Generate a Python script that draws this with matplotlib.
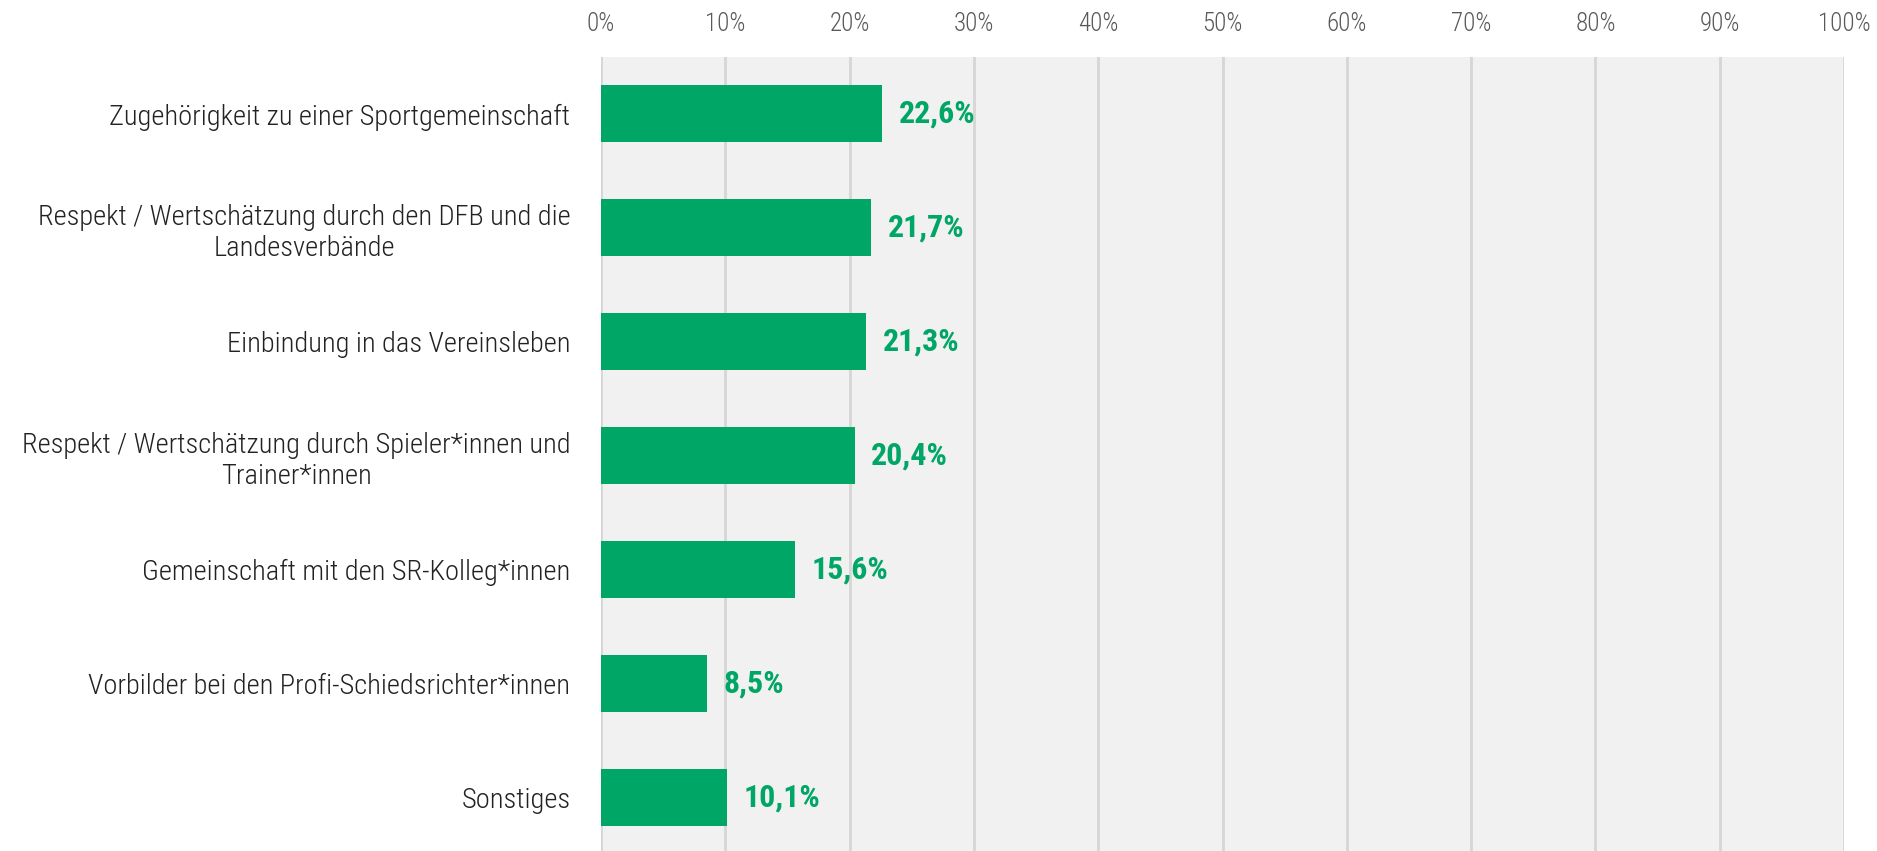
import matplotlib.pyplot as plt
from matplotlib import font_manager
import numpy as np

categories = [
    "Zugehörigkeit zu einer Sportgemeinschaft",
    "Respekt / Wertschätzung durch den DFB und die\nLandesverbände",
    "Einbindung in das Vereinsleben",
    "Respekt / Wertschätzung durch Spieler*innen und\nTrainer*innen",
    "Gemeinschaft mit den SR-Kolleg*innen",
    "Vorbilder bei den Profi-Schiedsrichter*innen",
    "Sonstiges",
]
values = [22.6, 21.7, 21.3, 20.4, 15.6, 8.5, 10.1]
value_labels = ["22,6%", "21,7%", "21,3%", "20,4%", "15,6%", "8,5%", "10,1%"]
ticks = list(range(0, 101, 10))

# condensed face if one is around, otherwise plain sans
names = {f.name for f in font_manager.fontManager.ttflist}
wanted = ["Roboto Condensed", "Asap Condensed", "Liberation Sans Narrow", "DejaVu Sans"]
plt.rcParams["font.family"] = [n for n in wanted if n in names] or ["DejaVu Sans"]

green = "#00a665"
fig = plt.figure(figsize=(18.77, 8.51), dpi=100)
ax = fig.add_axes([601 / 1877, 0, (1844 - 601) / 1877, 1 - 57 / 851])
ax.set_facecolor("#f1f1f1")

y = np.arange(len(categories))
ax.barh(y, values, height=0.5, color=green, zorder=3)
for yi, v, lab in zip(y, values, value_labels):
    ax.annotate(lab, (v, yi), xytext=(12, 0), textcoords="offset points",
                ha="left", va="center", color=green, fontsize=23, fontweight="bold")

ax.set_xlim(0, 100)
ax.set_ylim(6.47, -0.5)
ax.set_xticks(ticks)
ax.set_xticklabels([f"{t}%" for t in ticks], fontweight="light")
ax.xaxis.tick_top()
ax.tick_params(axis="x", length=0, pad=15, labelsize=18, labelcolor="#595959")
ax.set_yticks(y)
ax.set_yticklabels(categories, fontsize=20.5, color="#222222",
                   multialignment="center", fontweight="light")
ax.tick_params(axis="y", length=0, pad=22)
ax.grid(axis="x", color="#d6d6d6", linewidth=2, zorder=0)
ax.set_axisbelow(True)
for s in ax.spines.values():
    s.set_visible(False)

fig.savefig("out.png", dpi=100)
